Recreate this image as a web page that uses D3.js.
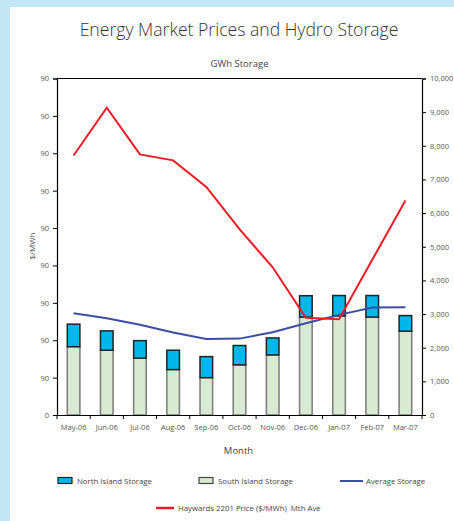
<!DOCTYPE html>
<html>
<head>
<meta charset="utf-8">
<script src="https://cdn.jsdelivr.net/npm/d3@7"></script>
<style>
  html, body { margin:0; padding:0; background:#c3e6f4; }
  svg { display:block; }
  text { font-family: "Open Sans", "Noto Sans", sans-serif; }
</style>
</head>
<body>
<div id="graphe"></div>
<script>
// data
var months = ["May-06","Jun-06","Jul-06","Aug-06","Sep-06","Oct-06","Nov-06","Dec-06","Jan-07","Feb-07","Mar-07"];
var southStorage = [2030,1925,1690,1350,1110,1490,1785,2910,2945,2910,2490];
var northStorage = [670,575,520,575,625,575,505,635,605,640,465];
var avgStorage = [3027,2878,2679,2449,2262,2270,2461,2729,2976,3193,3205];
var haywardsPrice = [69.4,82.2,69.7,68.1,61.0,49.7,39.5,26.0,25.6,41.5,57.4];
var leftTicks = [0,10,20,30,40,50,60,70,80,90];
var leftTickLabels = ["0","90","90","90","90","90","90","90","90","90"]; // as printed in the original
var rightTicks = [0,1000,2000,3000,4000,5000,6000,7000,8000,9000,10000];

var svgwidth = 454, svgheight = 521;
var gmargin = {left:57, top:78.5, right:32, bottom:106};
var gwidth = svgwidth - gmargin.left - gmargin.right;
var gheight = svgheight - gmargin.top - gmargin.bottom;

var svg = d3.select("#graphe").append("svg")
  .attr("width",svgwidth).attr("height",svgheight);

// white panel over the light blue page
svg.append("rect").attr("x",10).attr("y",7).attr("width",svgwidth-10).attr("height",svgheight-7).attr("fill","#fff");

svg.append("text").attr("x",239).attr("y",36).attr("text-anchor","middle")
  .attr("font-size",17.6).attr("font-weight",300).attr("fill","#333")
  .text("Energy Market Prices and Hydro Storage");
svg.append("text").attr("x",239.5).attr("y",67).attr("text-anchor","middle")
  .attr("font-size",9.5).attr("fill","#444").text("GWh Storage");

var g = svg.append("g").attr("transform","translate("+gmargin.left+","+gmargin.top+")");

var x = d3.scaleBand().domain(months).range([0,gwidth]).paddingInner(0).paddingOuter(0);
var yL = d3.scaleLinear().domain([0,90]).range([gheight,0]);
var yR = d3.scaleLinear().domain([0,10000]).range([gheight,0]);

var barW = x.bandwidth()*0.38;

// south island (bottom part)
g.selectAll(".south").data(months).enter().append("rect")
  .attr("x",function(d){ return x(d)+(x.bandwidth()-barW)/2; })
  .attr("y",function(d,i){ return yR(southStorage[i]); })
  .attr("width",barW)
  .attr("height",function(d,i){ return gheight-yR(southStorage[i]); })
  .attr("fill","#d9ead3").attr("stroke","#7a7a7a").attr("stroke-width",1.5);

// north island (on top)
g.selectAll(".north").data(months).enter().append("rect")
  .attr("x",function(d){ return x(d)+(x.bandwidth()-barW)/2; })
  .attr("y",function(d,i){ return yR(southStorage[i]+northStorage[i]); })
  .attr("width",barW)
  .attr("height",function(d,i){ return yR(southStorage[i])-yR(southStorage[i]+northStorage[i]); })
  .attr("fill","#00b7eb").attr("stroke","#222").attr("stroke-width",1.5);

var lineAvg = d3.line()
  .x(function(d,i){ return x(months[i])+x.bandwidth()/2; })
  .y(function(d){ return yR(d); });
var linePrice = d3.line()
  .x(function(d,i){ return x(months[i])+x.bandwidth()/2; })
  .y(function(d){ return yL(d); });

g.append("path").datum(avgStorage).attr("d",lineAvg)
  .attr("fill","none").attr("stroke","#3c4ea3").attr("stroke-width",2);
g.append("path").datum(haywardsPrice).attr("d",linePrice)
  .attr("fill","none").attr("stroke","#ed1c24").attr("stroke-width",2)
  .attr("stroke-linejoin","miter");

// frame top line
g.append("line").attr("x1",0).attr("x2",gwidth).attr("y1",0).attr("y2",0)
  .attr("stroke","#000").attr("stroke-width",1);

var axL = g.append("g").attr("class","theAxis")
  .call(d3.axisLeft(yL).tickValues(leftTicks).tickSize(4).tickPadding(4)
    .tickFormat(function(d,i){ return leftTickLabels[i]; }));
var axR = g.append("g").attr("class","theAxis").attr("transform","translate("+gwidth+",0)")
  .call(d3.axisRight(yR).tickValues(rightTicks).tickSize(4).tickPadding(4)
    .tickFormat(d3.format(",")));
var axB = g.append("g").attr("class","theAxis").attr("transform","translate(0,"+gheight+")")
  .call(d3.axisBottom(x).tickSize(0).tickPadding(10));

// x ticks sit between categories
axB.selectAll(".bnd").data(d3.range(months.length+1)).enter().append("line")
  .attr("x1",function(i){ return i*x.bandwidth(); }).attr("x2",function(i){ return i*x.bandwidth(); })
  .attr("y1",0).attr("y2",4).attr("stroke","#000");

[axL,axR,axB].forEach(function(a){
  a.select(".domain").attr("stroke","#000").attr("stroke-width",1.2);
  a.selectAll(".tick line").attr("stroke","#000");
  a.selectAll("text").attr("font-size",7.5).attr("fill","#555")
    .attr("font-family","\"Open Sans\", \"Noto Sans\", sans-serif");
});
axB.selectAll("text").attr("font-size",7.5);

svg.append("text").attr("transform","translate(35,246) rotate(-90)")
  .attr("text-anchor","middle").attr("font-size",8).attr("fill","#555").text("$/MWh");
svg.append("text").attr("x",238.5).attr("y",454).attr("text-anchor","middle")
  .attr("font-size",9.5).attr("fill","#444").text("Month");

// legend
var leg = svg.append("g").attr("font-size",7.8).attr("fill","#444");
leg.append("rect").attr("x",58).attr("y",477.5).attr("width",14).attr("height",6)
  .attr("fill","#00b7eb").attr("stroke","#222").attr("stroke-width",1.2);
leg.append("text").attr("x",77).attr("y",484).attr("fill","#444").text("North Island Storage");
leg.append("rect").attr("x",199).attr("y",477.5).attr("width",14).attr("height",6)
  .attr("fill","#d9ead3").attr("stroke","#444").attr("stroke-width",1.2);
leg.append("text").attr("x",218).attr("y",484).attr("fill","#444").text("South Island Storage");
leg.append("line").attr("x1",340).attr("x2",363).attr("y1",481).attr("y2",481)
  .attr("stroke","#3c4ea3").attr("stroke-width",2);
leg.append("text").attr("x",366).attr("y",484).attr("fill","#444").text("Average Storage");
leg.append("line").attr("x1",156).attr("x2",174).attr("y1",508).attr("y2",508)
  .attr("stroke","#ed1c24").attr("stroke-width",2.5);
leg.append("text").attr("x",178).attr("y",511).attr("fill","#444").text("Haywards 2201 Price ($/MWh)  Mth Ave")
  .attr("xml:space","preserve").style("white-space","pre");
</script>
</body>
</html>
